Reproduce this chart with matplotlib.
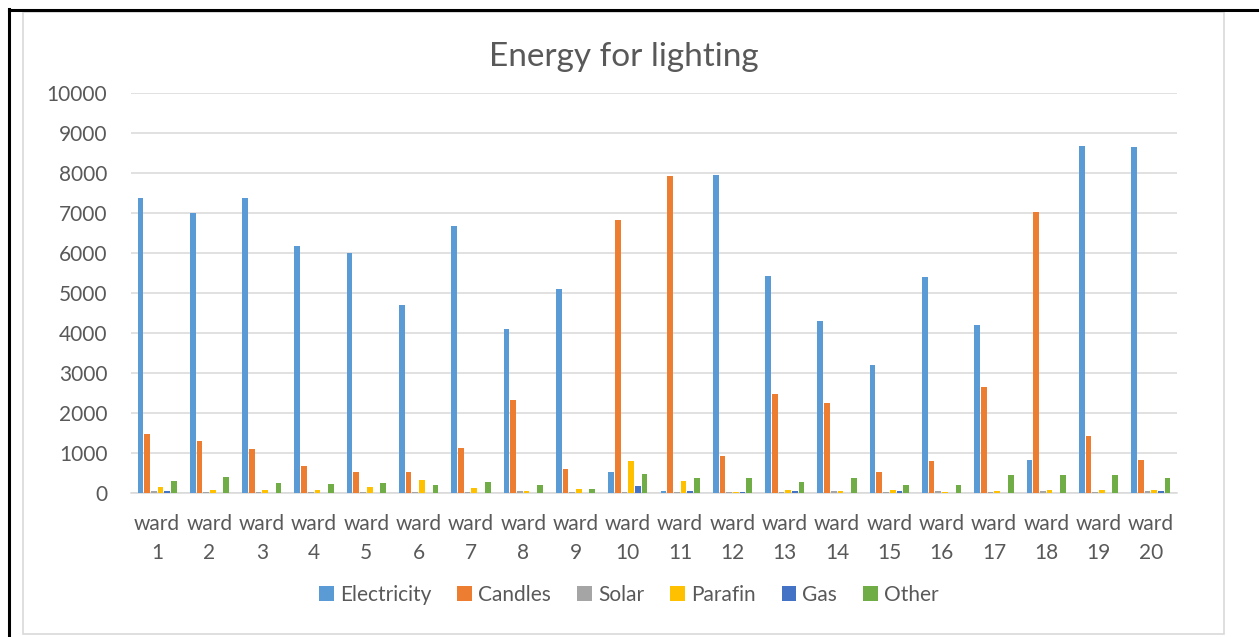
import numpy as np
import matplotlib.pyplot as plt
from matplotlib.lines import Line2D
from matplotlib.patches import Rectangle

# ---- data ----
wards = ["ward\n%d" % i for i in range(1, 21)]
electricity = [7380, 7000, 7380, 6180, 6000, 4700, 6670, 4100, 5100, 525,
               50, 7960, 5430, 4300, 3200, 5400, 4200, 825, 8680, 8640]
candles = [1475, 1300, 1100, 675, 525, 525, 1125, 2330, 590, 6830,
           7930, 935, 2470, 2250, 525, 800, 2650, 7020, 1425, 825]
solar = [55, 20, 20, 20, 20, 20, 20, 40, 20, 20,
         20, 30, 20, 40, 30, 55, 30, 40, 20, 40]
parafin = [140, 75, 75, 75, 140, 325, 125, 50, 100, 800,
           300, 20, 75, 50, 85, 20, 50, 80, 80, 80]
gas = [55, 10, 0, 0, 0, 0, 10, 0, 0, 175,
       50, 30, 50, 0, 40, 0, 0, 0, 0, 50]
other = [310, 400, 250, 215, 240, 200, 275, 190, 110, 485,
         385, 375, 275, 385, 200, 195, 450, 440, 445, 375]

series = [("Electricity", electricity, "#5B9BD5"),
          ("Candles", candles, "#ED7D31"),
          ("Solar", solar, "#A5A5A5"),
          ("Parafin", parafin, "#FFC000"),
          ("Gas", gas, "#4472C4"),
          ("Other", other, "#70AD47")]

W, H = 1259, 637
txt = "#595959"
plt.rcParams["font.family"] = ["Lato", "DejaVu Sans"]

fig = plt.figure(figsize=(W / 100, H / 100), dpi=100)
ax = fig.add_axes([131 / W, 1 - 493 / H, (1177 - 131) / W, (493 - 93) / H])

x = np.arange(len(wards))
pitch = 0.128
for i, (name, vals, col) in enumerate(series):
    ax.bar(x + (i - 2.5) * pitch, vals, width=0.11, color=col, label=name, zorder=3)

ax.set_xlim(-0.5, len(wards) - 0.5)
ax.set_ylim(0, 10000)
ax.set_yticks(range(0, 10001, 1000))
ax.yaxis.grid(True, color="#D9D9D9", linewidth=1.1, zorder=0)
for s in ["top", "right", "left"]:
    ax.spines[s].set_visible(False)
ax.spines["bottom"].set_color("#D9D9D9")
ax.spines["bottom"].set_linewidth(1.1)
ax.set_xticks(x)
ax.set_xticklabels(wards, linespacing=1.55)
ax.tick_params(axis="y", length=0, pad=17, labelsize=15, labelcolor=txt)
ax.tick_params(axis="x", length=0, pad=15, labelsize=15, labelcolor=txt)

fig.text(624 / W, 1 - 57 / H, "Energy for lighting", ha="center", va="center",
         fontsize=24, color=txt)

fig.legend(loc="center", bbox_to_anchor=(629 / W, 1 - 595 / H), ncol=6,
           frameon=False, fontsize=15, labelcolor=txt, handlelength=0.7,
           handleheight=0.7, handletextpad=0.3, columnspacing=1.25)

# outer frames
fig.add_artist(Rectangle((22.5 / W, 1 - 634 / H), (1224 - 22.5) / W, (634 - 12) / H,
                         transform=fig.transFigure, fill=False,
                         edgecolor="#D9D9D9", linewidth=1.2))
fig.add_artist(Line2D([8.5 / W, 1], [1 - 9.5 / H, 1 - 9.5 / H],
                      transform=fig.transFigure, color="black", linewidth=2.2))
fig.add_artist(Line2D([8.5 / W, 8.5 / W], [0, 1 - 8.5 / H],
                      transform=fig.transFigure, color="black", linewidth=2.2))

fig.savefig("out.png", dpi=100)
